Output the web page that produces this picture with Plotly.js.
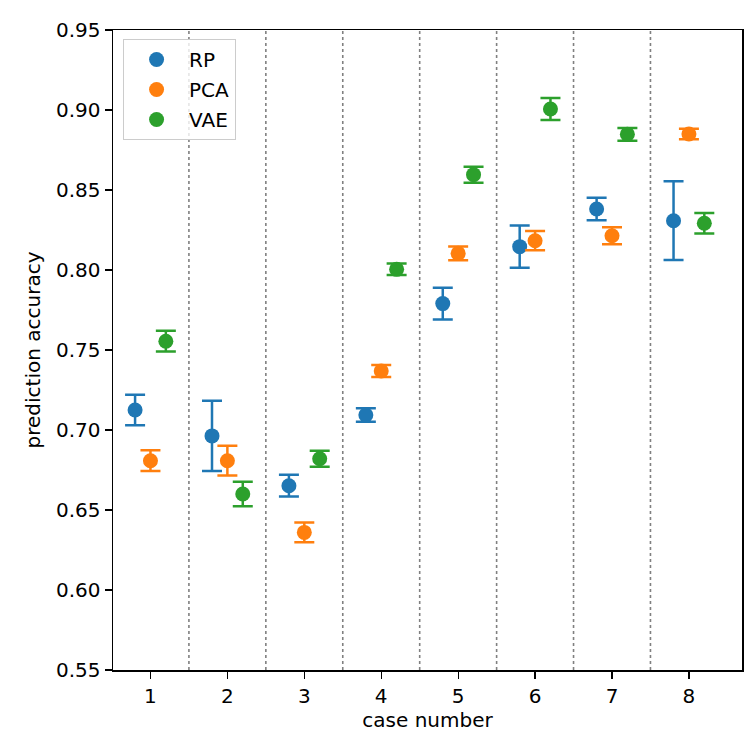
<!DOCTYPE html>
<html>
<head>
<meta charset="utf-8">
<script src="https://cdn.plot.ly/plotly-3.0.1.min.js"></script>
<style>
  html, body { margin: 0; padding: 0; background: #fff; }
  #chart { width: 750px; height: 750px; }
</style>
</head>
<body>
<div id="chart"></div>
<script>
// Cases 1..8, prediction accuracy per method with symmetric error bars
const cases = [1, 2, 3, 4, 5, 6, 7, 8];
const caseLabels = ['1', '2', '3', '4', '5', '6', '7', '8'];

const rpMean  = [0.7125, 0.6963, 0.6652, 0.7094, 0.7790, 0.8146, 0.8381, 0.8308];
const rpErr   = [0.0095, 0.0220, 0.0068, 0.0042, 0.0099, 0.0132, 0.0070, 0.0246];

const pcaMean = [0.6808, 0.6808, 0.6360, 0.7369, 0.8104, 0.8183, 0.8214, 0.8850];
const pcaErr  = [0.0065, 0.0093, 0.0062, 0.0038, 0.0043, 0.0060, 0.0053, 0.0033];

const vaeMean = [0.7555, 0.6600, 0.6820, 0.8004, 0.8596, 0.9006, 0.8848, 0.8292];
const vaeErr  = [0.0065, 0.0077, 0.0050, 0.0036, 0.0050, 0.0069, 0.0040, 0.0064];

const yTicks = [0.55, 0.60, 0.65, 0.70, 0.75, 0.80, 0.85, 0.90, 0.95];

const FONT = 'DejaVu Sans, sans-serif';
const FS = 20;

function series(name, means, errs, offset, color) {
  return {
    type: 'scatter',
    mode: 'markers',
    name: name,
    legendgroup: name,
    x: cases.map(c => c + offset),
    y: means,
    marker: { color: color, size: 15 },
    error_y: {
      type: 'data',
      array: errs,
      visible: true,
      color: color,
      thickness: 2.5,
      width: 10
    }
  };
}

const traces = [
  series('RP',  rpMean,  rpErr,  -0.2, '#1f77b4'),
  series('PCA', pcaMean, pcaErr,  0.0, '#ff7f0e'),
  series('VAE', vaeMean, vaeErr,  0.2, '#2ca02c')
];

// dotted separators between neighbouring cases
const separators = cases.slice(0, -1).map(c => ({
  type: 'line',
  xref: 'x', yref: 'paper',
  x0: c + 0.5, x1: c + 0.5, y0: 0, y1: 1,
  line: { color: '#808080', width: 1.6, dash: 'dot' },
  layer: 'below'
}));

const layout = {
  width: 750,
  height: 750,
  margin: { l: 113, r: 8, t: 30, b: 80 },
  paper_bgcolor: '#fff',
  plot_bgcolor: '#fff',
  font: { family: FONT, size: FS, color: '#000' },
  showlegend: true,
  legend: {
    x: 0.016, y: 0.986, xanchor: 'left', yanchor: 'top',
    bgcolor: 'rgba(255,255,255,0.8)',
    bordercolor: '#cccccc', borderwidth: 1,
    font: { family: FONT, size: FS, color: '#000' },
    itemwidth: 55,
    tracegroupgap: 1
  },
  xaxis: {
    range: [0.513, 8.69],
    tickmode: 'array',
    tickvals: cases,
    ticktext: caseLabels,
    ticks: 'outside', ticklen: 7, tickwidth: 1.2, tickcolor: '#000',
    showgrid: false, zeroline: false,
    showline: true, linecolor: '#000', linewidth: 1.5, mirror: true,
    tickfont: { family: FONT, size: FS },
    title: { text: 'case number', font: { family: FONT, size: FS }, standoff: 4 }
  },
  yaxis: {
    range: [0.55, 0.95],
    tickmode: 'array',
    tickvals: yTicks,
    ticktext: yTicks.map(v => v.toFixed(2)),
    ticks: 'outside', ticklen: 7, tickwidth: 1.2, tickcolor: '#000',
    showgrid: false, zeroline: false,
    showline: true, linecolor: '#000', linewidth: 1.5, mirror: true,
    tickfont: { family: FONT, size: FS },
    title: { text: 'prediction accuracy', font: { family: FONT, size: FS }, standoff: 10 }
  },
  shapes: separators
};

Plotly.newPlot('chart', traces, layout, { displayModeBar: false, staticPlot: true });
</script>
</body>
</html>
